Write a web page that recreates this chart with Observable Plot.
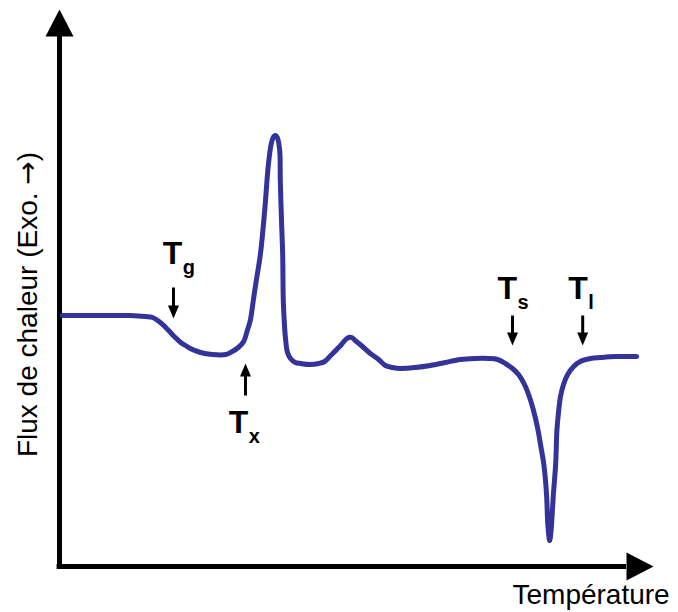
<!DOCTYPE html>
<html>
<head>
<meta charset="utf-8">
<script src="https://cdn.jsdelivr.net/npm/d3@7"></script>
<script src="https://cdn.jsdelivr.net/npm/@observablehq/plot@0.6"></script>
<style>
  html, body { margin: 0; padding: 0; background: #fff; }
  svg { display: block; }
</style>
</head>
<body>
<div id="chart"></div>
<script>
// DSC curve: temperature (arbitrary units) vs heat flux (arbitrary units)
const temperature = [
  0.5, 6.8, 11.8, 14.3, 15.5, 16.8, 17.7, 18.5, 19.3, 20.2, 21.0, 21.8, 23.5, 25.5, 27.7,
  28.8, 29.8, 30.7, 31.3, 31.8, 32.3, 32.8, 33.5, 34.2, 34.8, 35.3, 35.7, 36.0, 36.3, 36.7,
  36.8, 37.0, 37.2, 37.3, 37.5, 37.7, 38.0, 38.5, 39.3, 40.2, 41.8, 43.2, 44.2, 45.2, 46.2,
  47.0, 47.7, 48.2, 48.7, 49.3, 50.5, 51.8, 53.2, 54.3, 55.5, 56.8, 59.3, 61.8, 64.3, 66.8,
  69.3, 71.5, 73.0, 74.3, 75.5, 76.5, 77.5, 78.3, 79.0, 79.7, 80.2, 80.7, 81.0, 81.2, 81.4,
  81.7, 81.9, 82.1, 82.3, 82.7, 82.9, 83.2, 83.5, 84.0, 84.7, 85.7, 86.8, 88.5, 90.2, 92.7,
  96.2
];
const flux = [
  50.2, 50.2, 50.2, 50.0, 49.8, 48.8, 47.8, 46.8, 45.8, 44.8, 44.2, 43.6, 42.8, 42.4, 42.4,
  43.0, 43.8, 45.0, 47.2, 49.2, 53.2, 57.2, 62.6, 71.2, 80.2, 84.6, 86.0, 86.2, 85.8, 83.2,
  77.2, 69.2, 62.2, 53.2, 48.2, 45.2, 42.8, 41.6, 40.8, 40.6, 40.4, 40.6, 41.0, 42.2, 43.4,
  44.4, 45.4, 45.8, 45.8, 45.2, 44.0, 42.6, 41.4, 40.2, 39.8, 39.6, 39.8, 40.2, 40.8, 41.4,
  41.6, 41.6, 41.4, 40.6, 39.6, 38.4, 36.4, 34.0, 31.2, 27.6, 24.2, 20.6, 17.2, 13.8, 8.2,
  5.2, 6.8, 10.2, 14.2, 20.6, 27.2, 31.2, 34.0, 36.4, 38.4, 40.0, 41.0, 41.6, 41.8, 42.0,
  42.0
];

// Annotated transitions: T_g, T_x, T_s, T_l
const markerNames = ["g", "x", "s", "l"];
const markerX     = [19.0, 31.0, 75.5, 87.2];
const arrowTail   = [55.8, 34.2, 50.2, 50.2];
const arrowTip    = [49.6, 40.6, 44.2, 44.2];
const labelX      = [17.2, 28.2, 73.0, 84.8];
const labelY      = [60.6, 26.8, 53.6, 53.6];

// Axis titles
const xTitle = "Température";
const yTitleMain = "Flux de chaleur (Exo. ";
const yTitleArrow = "\u2192";
const yTitleEnd = ")";
const yTitle = yTitleMain + yTitleArrow + yTitleEnd;
const xTitlePos = [75.5, -7.4];
const yTitlePos = [-5.2, 52.4];
const xAxisEnd = 94.5;
const yAxisEnd = 106;

const curve = temperature.map((t, i) => ({t, f: flux[i]}));
const markers = markerNames.map((n, i) => ({
  name: n, x: markerX[i], tail: arrowTail[i], tip: arrowTip[i],
  lx: labelX[i], ly: labelY[i], rot: arrowTip[i] > arrowTail[i] ? 180 : 0
}));

const axisHead = {draw(ctx) { ctx.moveTo(0, -27); ctx.lineTo(-14, 0); ctx.lineTo(14, 0); ctx.closePath(); }};
const smallHead = {draw(ctx) { ctx.moveTo(0, 0); ctx.lineTo(-5.5, -13); ctx.lineTo(5.5, -13); ctx.closePath(); }};

const font = "'Liberation Sans', Arial, Helvetica, sans-serif";

const plot = Plot.plot({
  width: 678,
  height: 612,
  marginLeft: 59,
  marginRight: 19,
  marginTop: 16,
  marginBottom: 46,
  x: {domain: [0, 100], axis: null},
  y: {domain: [0, 110], axis: null},
  style: {fontFamily: font, background: "#fff", color: "#000"},
  marks: [
    Plot.ruleX([0], {y1: -0.5, y2: yAxisEnd, stroke: "#000", strokeWidth: 5}),
    Plot.ruleY([0], {x1: -0.4, x2: xAxisEnd, stroke: "#000", strokeWidth: 5}),
    Plot.dot([{x: 0, y: yAxisEnd}], {x: "x", y: "y", symbol: axisHead, fill: "#000", stroke: "none", rotate: 0}),
    Plot.dot([{x: xAxisEnd, y: 0}], {x: "x", y: "y", symbol: axisHead, fill: "#000", stroke: "none", rotate: 90}),
    Plot.line(curve, {x: "t", y: "f", curve: "catmull-rom", stroke: "#333399", strokeWidth: 5, strokeLinejoin: "round", strokeLinecap: "round"}),
    Plot.arrow(markers, {x1: "x", y1: "tail", x2: "x", y2: "tip", insetEnd: 10, headLength: 0, stroke: "#000", strokeWidth: 3, strokeLinecap: "butt"}),
    Plot.dot(markers, {x: "x", y: "tip", symbol: smallHead, fill: "#000", stroke: "none", rotate: "rot"}),
    Plot.text(markers, {x: "lx", y: "ly", text: () => "T", fontSize: 32, fontWeight: "bold", textAnchor: "start", lineAnchor: "bottom", fill: "#000"}),
    Plot.text(markers, {x: "lx", y: "ly", text: "name", fontSize: 20, fontWeight: "bold", textAnchor: "start", lineAnchor: "bottom", dx: 20, dy: 10, fill: "#000"}),
    Plot.text([xTitle], {x: xTitlePos[0], y: xTitlePos[1], text: d => d, fontSize: 28, textAnchor: "start", lineAnchor: "bottom", fill: "#000"}),
    Plot.text([yTitle], {x: yTitlePos[0], y: yTitlePos[1], text: d => d, fontSize: 28, rotate: -90, textAnchor: "middle", lineAnchor: "middle", fill: "#000"})
  ]
});

// Render the arrow glyph of the y title in a font with a full-size arrow
d3.select(plot).selectAll("text").filter(function() { return this.textContent === yTitle; }).each(function() {
  const t = d3.select(this);
  t.text(null);
  t.append("tspan").text(yTitleMain);
  t.append("tspan").attr("font-family", "'DejaVu Sans', sans-serif").attr("font-size", 28).text(yTitleArrow);
  t.append("tspan").text(yTitleEnd);
});
document.getElementById("chart").append(plot);
</script>
</body>
</html>
